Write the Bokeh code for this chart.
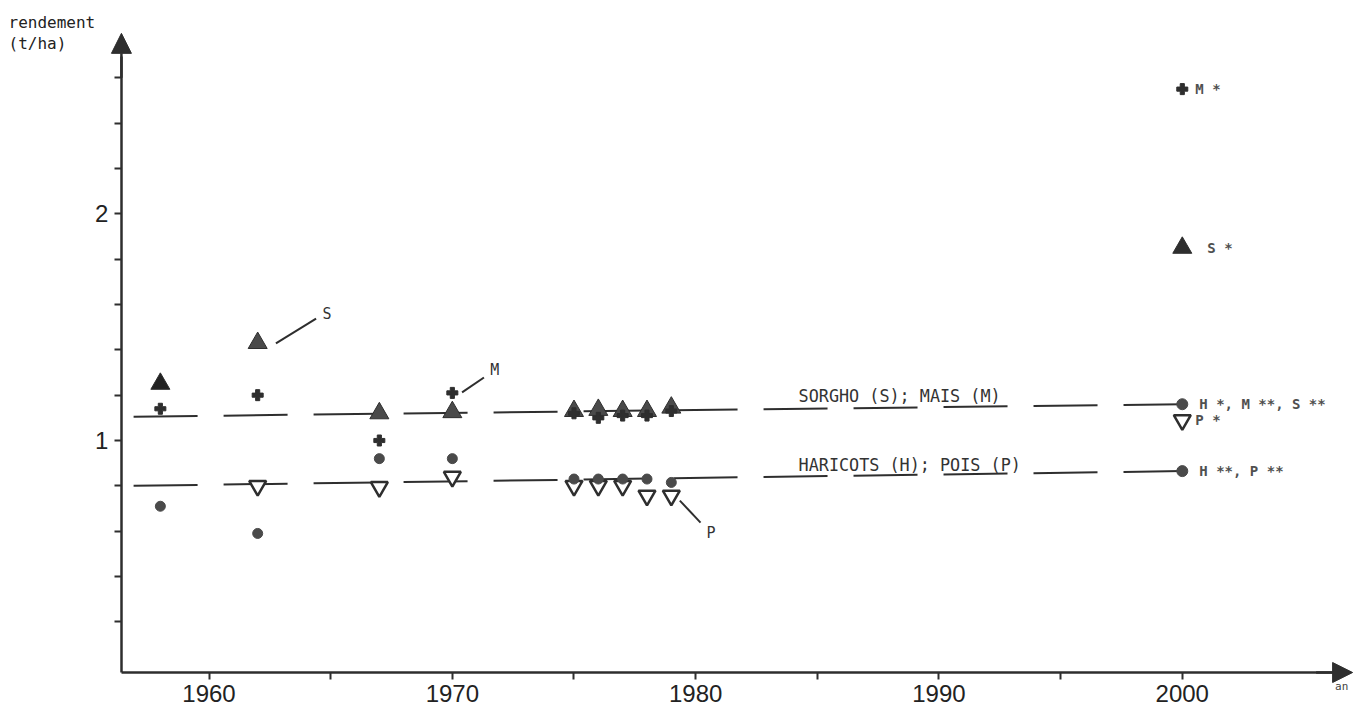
from bokeh.plotting import figure
from bokeh.models import FixedTicker, Arrow, NormalHead, Label, ColumnDataSource
from bokeh.embed import file_html
from bokeh.resources import INLINE
from bokeh.core.properties import value

# ---------------- data ----------------
years_S = [1958, 1962, 1967, 1970, 1975, 1976, 1977, 1978, 1979]
sorgho = [1.25, 1.43, 1.12, 1.125, 1.13, 1.135, 1.13, 1.13, 1.145]
years_M = [1958, 1962, 1967, 1970, 1975, 1976, 1977, 1978, 1979]
mais = [1.14, 1.20, 1.00, 1.21, 1.12, 1.10, 1.11, 1.11, 1.13]
years_H = [1958, 1962, 1967, 1970, 1975, 1976, 1977, 1978, 1979]
haricots = [0.71, 0.59, 0.92, 0.92, 0.83, 0.83, 0.83, 0.83, 0.815]
years_P = [1962, 1967, 1970, 1975, 1976, 1977, 1978, 1979]
pois = [0.80, 0.795, 0.84, 0.80, 0.80, 0.80, 0.757, 0.757]

# projections for 2000
proj_year = 2000
proj_mais_star = 2.55
proj_sorgho_star = 1.85
proj_pois_star = 1.09
proj_circles = [1.16, 0.865]
proj_circle_labels = ["H *, M **, S **", "H **, P **"]

# trend lines
trend_years = [1956.9, 2000]
trend_sorgho_mais = [1.105, 1.16]
trend_haricots_pois = [0.80, 0.865]

x_ticks = [1960, 1970, 1980, 1990, 2000]
x_minor = [1965, 1975, 1985, 1995]
y_ticks = [1, 2]
y_minor = [0.2, 0.4, 0.6, 0.8, 1.2, 1.4, 1.6, 1.8, 2.2, 2.4, 2.6]

# styles (kept apart from values)
INK = "#2e2e2e"
GREY = "#4a4a4a"
sorgho_colors = ["#222222"] + [GREY] * 8
MONO = "DejaVu Sans Mono"

X0, X1 = 1956.40, 2007.0      # axis extent (years)
Y0, Y1 = -0.0234, 2.796       # axis extent (t/ha)

p = figure(width=1356, height=710, output_backend="svg", toolbar_location=None,
           x_range=(1951.43, 2007.16), y_range=(-0.191, 2.9409),
           min_border_left=0, min_border_right=0, min_border_top=0,
           min_border_bottom=0)
p.outline_line_color = None
p.grid.visible = False

for ax in (p.xaxis[0], p.yaxis[0]):
    ax.axis_line_width = 2.5
    ax.axis_line_color = INK
    ax.major_tick_in = 0
    ax.major_tick_out = 7
    ax.minor_tick_in = 0
    ax.minor_tick_out = 7
    ax.major_tick_line_width = 2
    ax.minor_tick_line_width = 2
    ax.major_tick_line_color = INK
    ax.minor_tick_line_color = INK
    ax.major_label_text_font = "Liberation Sans"
    ax.major_label_text_font_size = "24px"
    ax.major_label_text_color = "#222222"

p.xaxis.ticker = FixedTicker(ticks=x_ticks, minor_ticks=x_minor)
p.yaxis.ticker = FixedTicker(ticks=y_ticks, minor_ticks=y_minor)
p.xaxis.fixed_location = Y0
p.yaxis.fixed_location = X0
p.xaxis.bounds = (X0, X1 - 0.5)
p.yaxis.bounds = (Y0, Y1 - 0.1)
p.xaxis.major_label_standoff = 5
p.yaxis.major_label_standoff = 6

# axis arrows
p.add_layout(Arrow(end=NormalHead(size=20, fill_color=INK, line_color=INK),
                   x_start=X0, y_start=2.6, x_end=X0, y_end=Y1,
                   line_width=2.5, line_color=INK))
p.add_layout(Arrow(end=NormalHead(size=20, fill_color=INK, line_color=INK),
                   x_start=2005.5, y_start=Y0, x_end=X1, y_end=Y0,
                   line_width=2.5, line_color=INK))

# trend lines
p.line(trend_years, trend_sorgho_mais, line_width=2, line_color=INK, line_dash="64 26")
p.line(trend_years, trend_haricots_pois, line_width=2, line_color=INK, line_dash="64 26")

# callout lines
p.line([1962.75, 1964.4], [1.428, 1.538], line_width=2, line_color=INK)
p.line([1970.4, 1971.3], [1.212, 1.278], line_width=2, line_color=INK)
p.line([1979.35, 1980.2], [0.735, 0.638], line_width=2, line_color=INK)

# markers
p.scatter(years_P, pois, marker="inverted_triangle", size=17, fill_color="white",
          line_color=INK, line_width=2.5)
p.scatter(years_H, haricots, marker="circle", size=10, fill_color=GREY, line_color=GREY)
p.scatter(years_S, sorgho, marker="triangle", size=19, fill_color=sorgho_colors,
          line_color=INK, line_width=1)
p.scatter(years_M, mais, marker="plus", size=11, fill_color=INK, line_color=INK)

p.scatter([proj_year], [proj_mais_star], marker="plus", size=11, fill_color=INK, line_color=INK)
p.scatter([proj_year], [proj_sorgho_star], marker="triangle", size=19, fill_color=INK, line_color=INK)
p.scatter([proj_year], [proj_pois_star], marker="inverted_triangle", size=17, fill_color="white",
          line_color=INK, line_width=2.5)
p.scatter([proj_year] * len(proj_circles), proj_circles, marker="circle", size=11,
          fill_color=GREY, line_color=GREY)

# labels near 2000
src = ColumnDataSource(dict(
    x=[proj_year] * 5,
    y=[proj_mais_star, proj_sorgho_star, proj_circles[0], proj_pois_star, proj_circles[1]],
    t=["M *", "S *", proj_circle_labels[0], "P *", proj_circle_labels[1]],
    dx=[13, 25, 17, 13, 17],
))
p.text(x="x", y="y", text="t", x_offset="dx", source=src, text_font=value(MONO),
       text_font_size="14px", text_font_style="bold", text_color="#505050",
       text_baseline="middle", text_align="left")

# series labels
p.text(x=[1984.23, 1984.23], y=[1.1985, 0.894],
       text=["SORGHO (S); MAIS (M)", "HARICOTS (H); POIS (P)"],
       text_font=value(MONO), text_font_size="16.8px", text_color="#333333",
       text_baseline="middle", text_align="left")

# callout letters
p.text(x=[1964.66, 1971.56, 1980.45], y=[1.556, 1.309, 0.594], text=["S", "M", "P"],
       text_font=value(MONO), text_font_size="15px", text_color="#333333",
       text_baseline="middle", text_align="left")

# axis titles
p.add_layout(Label(x=1951.76, y=2.8836, text="rendement\n(t/ha)", text_font=MONO,
                   text_font_size="16px", text_color="#222222", text_baseline="top",
                   text_align="left", text_line_height=1.1))
p.add_layout(Label(x=2006.55, y=-0.083, text="an", text_font=MONO,
                   text_font_size="11px", text_color="#444444", text_baseline="middle",
                   text_align="center"))

open("out.html", "w").write(file_html(p, INLINE))
